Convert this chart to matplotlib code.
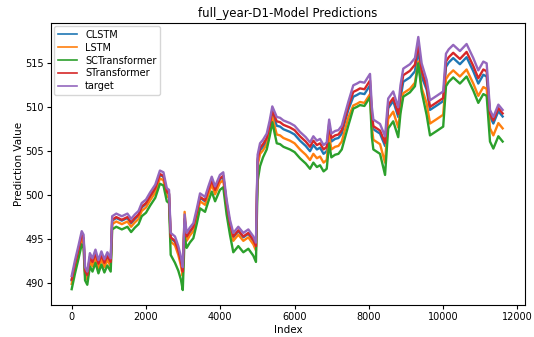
import matplotlib
matplotlib.use("Agg")
import matplotlib.pyplot as plt
import numpy as np

# index positions
index = [0, 90, 180, 270, 320, 360, 420, 490, 560, 640, 720, 800, 880, 960, 1050,
         1090, 1200, 1350, 1500, 1600, 1700, 1800, 1885, 2000, 2110, 2250, 2375, 2470, 2560, 2620,
         2665, 2780, 2870, 2940, 2990, 3040,
         3095, 3180, 3275, 3370, 3455, 3590, 3680, 3770, 3860, 3990, 4080, 4170, 4260, 4350, 4485, 4620, 4755, 4890, 4960,
         5005, 5070, 5150, 5250, 5330, 5400,
         5520, 5610, 5700, 5875, 6000, 6145, 6300, 6415, 6505, 6600, 6685, 6780, 6865,
         6930, 6990, 7090, 7180, 7270, 7360, 7445,
         7580, 7680, 7760, 7880, 7940, 8030,
         8080, 8120, 8300, 8435, 8520, 8655, 8790,
         8850, 8925, 9105, 9240, 9330, 9420,
         9555, 9645, 9825, 10000,
         10075, 10150, 10270, 10450, 10630, 10810, 10945, 11080, 11170,
         11260, 11350, 11485, 11600]

target = [490.8, 492.6, 494.2, 495.9, 495.5, 491.8, 491.3, 493.4, 492.8, 493.8, 492.6, 493.6, 492.7, 493.5, 492.8,
          497.6, 497.9, 497.6, 497.9, 497.3, 497.8, 498.2, 499.1, 499.5, 500.3, 501.2, 502.8, 502.6, 500.8, 500.6,
          495.7, 495.3, 494.2, 493.0, 491.8, 497.8,
          495.7, 496.3, 496.8, 498.5, 500.2, 499.8, 501.0, 502.1, 501.0, 502.3, 502.6, 499.5, 497.2, 495.7, 496.4, 495.7, 496.1, 495.3, 494.6,
          504.6, 505.9, 506.3, 507.0, 508.5, 510.1,
          508.9, 508.8, 508.5, 508.2, 507.9, 507.2, 506.6, 506.0, 506.7, 506.2, 506.4, 505.7, 506.0,
          508.6, 507.0, 507.3, 507.4, 507.9, 509.3, 510.6,
          512.5, 512.7, 512.9, 512.8, 513.2, 513.8,
          510.0, 508.6, 508.1, 506.7, 511.0, 511.8, 510.0,
          512.5, 514.4, 514.9, 515.6, 518.0, 515.0,
          513.1, 510.8, 511.3, 511.8,
          516.1, 516.6, 517.1, 516.4, 517.2, 515.6, 514.2, 515.2, 515.0,
          509.7, 508.9, 510.3, 509.7]

# vertical distance below the target, read segment by segment
stransformer_gap = [0.4] * 15 + [0.4] * 15 + [0.5] * 6 + [0.4] * 19 + [0.5] * 6 + [0.5] * 13 \
    + [0.5] * 7 + [0.75] * 6 + [0.75] * 7 + [0.75] * 6 + [0.75] * 4 + [0.9] * 9 + [0.4] * 4
clstm_gap = [0.5] * 15 + [0.5] * 15 + [0.6] * 6 + [0.5] * 19 + [0.8] * 6 + [1.0] * 13 \
    + [0.9] * 7 + [1.3] * 6 + [1.1] * 7 + [1.5] * 6 + [1.1] * 4 + [1.5] * 9 + [0.75] * 4
lstm_gap = [0.9] * 15 + [0.9] * 15 + [1.0, 1.0, 1.0, 1.0, 1.0, -0.3] + [0.9] * 19 + [1.2] * 6 + [2.0] * 13 \
    + [1.8] * 7 + [2.3] * 6 + [2.3, 2.3, 2.3, 3.0, 2.3, 2.3, 2.3] + [2.8] * 6 + [2.65] * 4 + [2.9] * 9 + [2.1] * 4
sctransformer_gap = [1.5] * 15 + [1.5] * 15 + [2.5, 3.0, 2.8, 2.6, 2.6, 2.5] + [1.7] * 13 + [2.2] * 6 \
    + [3.0, 2.6, 2.0, 1.8, 1.8, 1.8] + [3.0] * 13 + [2.7] * 7 + [2.65] * 6 \
    + [3.4, 3.4, 3.4, 4.4, 3.4, 3.4, 3.4] + [3.2, 3.2, 3.2, 3.2, 3.0, 3.2] + [4.0] * 4 + [3.7] * 9 + [3.6] * 4

target = np.array(target)
series = {
    "CLSTM": target - np.array(clstm_gap),
    "LSTM": target - np.array(lstm_gap),
    "SCTransformer": target - np.array(sctransformer_gap),
    "STransformer": target - np.array(stransformer_gap),
    "target": target,
}
colors = ["#1f77b4", "#ff7f0e", "#2ca02c", "#d62728", "#9467bd"]

plt.rcParams["font.size"] = 7
fig = plt.figure(figsize=(5.34, 3.37), dpi=100)
ax = fig.add_axes([0.0955, 0.095, 0.8875, 0.837])
for (name, values), c in zip(series.items(), colors):
    ax.plot(index, values, color=c, linewidth=1.7, label=name)
ax.set_xlim(-557, 12200)
ax.set_ylim(487.5, 519.6)
ax.set_xticks([0, 2000, 4000, 6000, 8000, 10000, 12000])
ax.set_yticks([490, 495, 500, 505, 510, 515])
ax.set_xlabel("Index", fontsize=7.5, labelpad=2)
ax.set_ylabel("Prediction Value", fontsize=7.5, labelpad=1)
ax.set_title("full_year-D1-Model Predictions", fontsize=8.5, pad=4)
ax.tick_params(labelsize=7, length=3, pad=2)
leg = ax.legend(loc="upper left", fontsize=7, handlelength=2.0, borderaxespad=0.3, labelspacing=0.3)
for line in leg.get_lines():
    line.set_linewidth(1.2)
fig.savefig("out.png", dpi=100)
